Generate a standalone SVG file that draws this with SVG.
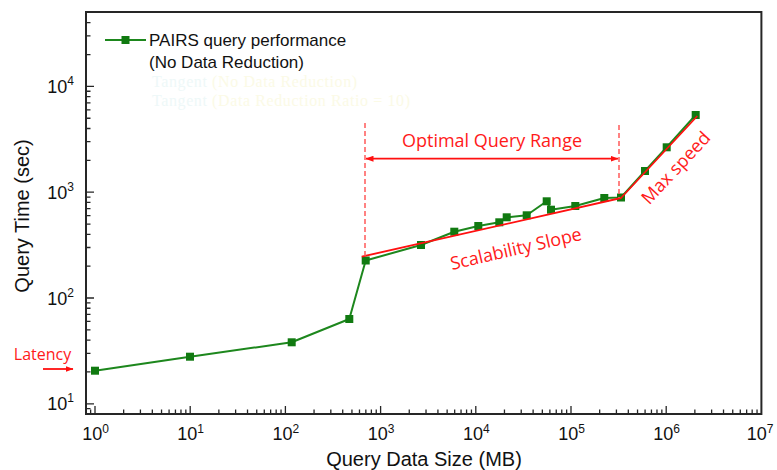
<svg xmlns="http://www.w3.org/2000/svg" width="777" height="470" viewBox="0 0 777 470">
<style>
.ax{fill:none;stroke:#262626;stroke-width:2}
.tk{fill:none;stroke:#262626;stroke-width:1.3}
.lab{font-family:"Liberation Sans",Arial,sans-serif;font-size:18px;fill:#111}
.sup{font-size:12px}
.title{font-family:"Liberation Sans",Arial,sans-serif;font-size:20px;fill:#111}
.leg{font-family:"Liberation Sans",Arial,sans-serif;font-size:17px;fill:#111}
.ghost{font-family:"Liberation Serif","Times New Roman",serif;font-size:16px;letter-spacing:0.6px}
.ann{font-family:"Open Sans","Liberation Sans",sans-serif;fill:#ff1a1a}
.data{fill:none;stroke:#1d871d;stroke-width:2;stroke-linejoin:round}
.mk{fill:#117a11}
.red{fill:none;stroke:#ff1010;stroke-width:1.8;stroke-linejoin:round}
.dash{fill:none;stroke:#ff5a5a;stroke-width:1.5;stroke-dasharray:5 3}
</style>
<defs>
<marker id="ah" viewBox="0 0 8 6" refX="7.5" refY="3" markerWidth="8" markerHeight="6" markerUnits="userSpaceOnUse" orient="auto-start-reverse">
<path d="M0,0 L8,3 L0,6 Z" fill="#ff1010"/>
</marker>
</defs>
<rect width="777" height="470" fill="#fff"/>

<g id="axes">
<rect class="ax" x="86" y="12" width="675.4" height="402"/>
<path class="tk" d="M95,414v-8M190.2,414v-8M285.4,414v-8M380.6,414v-8M475.8,414v-8M571,414v-8M666.2,414v-8
M90.64,414v-4.5
M123.66,414v-4.5M140.42,414v-4.5M152.32,414v-4.5M161.54,414v-4.5M169.08,414v-4.5M175.45,414v-4.5M180.97,414v-4.5M185.84,414v-4.5
M218.86,414v-4.5M235.62,414v-4.5M247.52,414v-4.5M256.74,414v-4.5M264.28,414v-4.5M270.65,414v-4.5M276.17,414v-4.5M281.04,414v-4.5
M314.06,414v-4.5M330.82,414v-4.5M342.72,414v-4.5M351.94,414v-4.5M359.48,414v-4.5M365.85,414v-4.5M371.37,414v-4.5M376.24,414v-4.5
M409.26,414v-4.5M426.02,414v-4.5M437.92,414v-4.5M447.14,414v-4.5M454.68,414v-4.5M461.05,414v-4.5M466.57,414v-4.5M471.44,414v-4.5
M504.46,414v-4.5M521.22,414v-4.5M533.12,414v-4.5M542.34,414v-4.5M549.88,414v-4.5M556.25,414v-4.5M561.77,414v-4.5M566.64,414v-4.5
M599.66,414v-4.5M616.42,414v-4.5M628.32,414v-4.5M637.54,414v-4.5M645.08,414v-4.5M651.45,414v-4.5M656.97,414v-4.5M661.84,414v-4.5
M694.86,414v-4.5M711.62,414v-4.5M723.52,414v-4.5M732.74,414v-4.5M740.28,414v-4.5M746.65,414v-4.5M752.17,414v-4.5M757.04,414v-4.5"/>
<path class="tk" d="M86,403.8h8M86,298h8M86,192.2h8M86,86.4h8
M86,408.64h4.5
M86,371.95h4.5M86,353.32h4.5M86,340.1h4.5M86,329.85h4.5M86,321.47h4.5M86,314.39h4.5M86,308.25h4.5M86,302.84h4.5
M86,266.15h4.5M86,247.52h4.5M86,234.3h4.5M86,224.05h4.5M86,215.67h4.5M86,208.59h4.5M86,202.45h4.5M86,197.04h4.5
M86,160.35h4.5M86,141.72h4.5M86,128.5h4.5M86,118.25h4.5M86,109.87h4.5M86,102.79h4.5M86,96.65h4.5M86,91.24h4.5
M86,54.55h4.5M86,35.92h4.5M86,22.7h4.5"/>
</g>

<g id="x-labels" class="lab" text-anchor="middle">
<text x="95.5" y="439.5">10<tspan class="sup" dy="-6.5">0</tspan></text>
<text x="190.7" y="439.5">10<tspan class="sup" dy="-6.5">1</tspan></text>
<text x="285.9" y="439.5">10<tspan class="sup" dy="-6.5">2</tspan></text>
<text x="381.1" y="439.5">10<tspan class="sup" dy="-6.5">3</tspan></text>
<text x="476.3" y="439.5">10<tspan class="sup" dy="-6.5">4</tspan></text>
<text x="571.5" y="439.5">10<tspan class="sup" dy="-6.5">5</tspan></text>
<text x="666.7" y="439.5">10<tspan class="sup" dy="-6.5">6</tspan></text>
<text x="760" y="439.5">10<tspan class="sup" dy="-6.5">7</tspan></text>
</g>
<g id="y-labels" class="lab" text-anchor="end">
<text x="74" y="410.3">10<tspan class="sup" dy="-8">1</tspan></text>
<text x="74" y="304.5">10<tspan class="sup" dy="-8">2</tspan></text>
<text x="74" y="198.7">10<tspan class="sup" dy="-8">3</tspan></text>
<text x="74" y="92.9">10<tspan class="sup" dy="-8">4</tspan></text>
</g>
<text id="x-title" class="title" x="424" y="466" text-anchor="middle">Query Data Size (MB)</text>
<text id="y-title" class="title" transform="translate(29,216) rotate(-90)" text-anchor="middle">Query Time (sec)</text>

<g id="legend">
<line x1="105" y1="40" x2="146" y2="40" stroke="#1d871d" stroke-width="2"/>
<rect class="mk" x="121.5" y="36" width="8" height="8"/>
<text class="leg" x="149" y="45.5">PAIRS query performance</text>
<text class="leg" x="149" y="68">(No Data Reduction)</text>
<text class="ghost" x="152" y="87"><tspan fill="#eef8f8">Tangent</tspan><tspan fill="#fbfae6"> (No Data Reduction)</tspan></text>
<text class="ghost" x="152" y="105.5"><tspan fill="#eef8f8">Tangent</tspan><tspan fill="#fbfae6"> (Data Reduction Ratio = 10)</tspan></text>
</g>

<g id="series">
<polyline class="data" points="95,370.7 190,356.7 291.7,342.3 349.3,319 365.7,260.5 421,245 454.3,231.7 478.3,226 499.3,222.3 506.7,217.3 526.7,215.3 546.7,201.3 551,209.7 575.3,206 604.3,198 621,197.5 645,171 666.7,147.3 695.7,115"/>
<g class="mk">
<rect x="91" y="366.7" width="8" height="8"/>
<rect x="186" y="352.7" width="8" height="8"/>
<rect x="287.7" y="338.3" width="8" height="8"/>
<rect x="345.3" y="315" width="8" height="8"/>
<rect x="361.7" y="256.5" width="8" height="8"/>
<rect x="417" y="241" width="8" height="8"/>
<rect x="450.3" y="227.7" width="8" height="8"/>
<rect x="474.3" y="222" width="8" height="8"/>
<rect x="495.3" y="218.3" width="8" height="8"/>
<rect x="502.7" y="213.3" width="8" height="8"/>
<rect x="522.7" y="211.3" width="8" height="8"/>
<rect x="542.7" y="197.3" width="8" height="8"/>
<rect x="547" y="205.7" width="8" height="8"/>
<rect x="571.3" y="202" width="8" height="8"/>
<rect x="600.3" y="194" width="8" height="8"/>
<rect x="617" y="193.5" width="8" height="8"/>
<rect x="641" y="167" width="8" height="8"/>
<rect x="662.7" y="143.3" width="8" height="8"/>
<rect x="691.7" y="111" width="8" height="8"/>
</g>
</g>

<g id="connectors">
<polyline class="red" points="361.7,256.7 621,198 697.3,116"/>
<line class="dash" x1="365" y1="123" x2="365" y2="258"/>
<line class="dash" x1="619" y1="125" x2="619" y2="198"/>
<line class="red" x1="366" y1="158.7" x2="618" y2="158.7" marker-start="url(#ah)" marker-end="url(#ah)"/>
<line class="red" x1="43" y1="369" x2="73" y2="369" marker-end="url(#ah)"/>
</g>

<g id="annotations" class="ann">
<text x="492" y="147" font-size="18" text-anchor="middle">Optimal Query Range</text>
<text transform="translate(516,249) rotate(-13)" x="0" y="6" font-size="18" text-anchor="middle">Scalability Slope</text>
<text transform="translate(676,168) rotate(-47)" x="0" y="6" font-size="18" text-anchor="middle">Max speed</text>
<text x="42.5" y="359.5" font-size="16" text-anchor="middle">Latency</text>
</g>
</svg>
